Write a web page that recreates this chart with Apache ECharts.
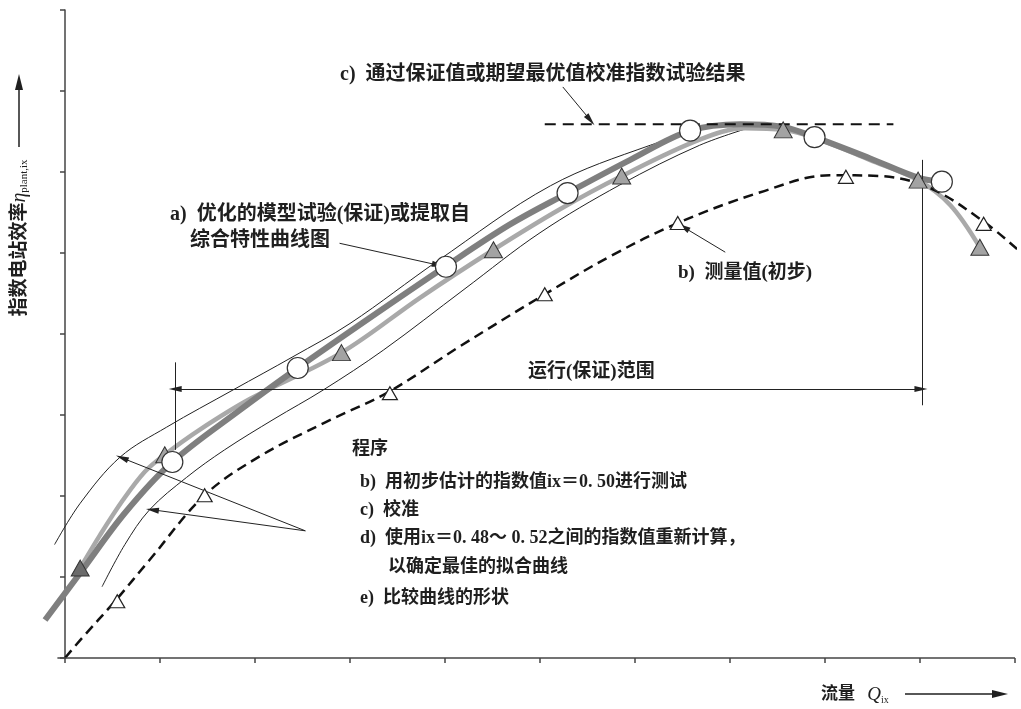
<!DOCTYPE html>
<html>
<head>
<meta charset="utf-8">
<script src="https://cdn.jsdelivr.net/npm/echarts@6/dist/echarts.min.js"></script>
<style>
  html, body { margin: 0; padding: 0; background: #fff; }
  #main { width: 1021px; height: 709px; }
</style>
</head>
<body>
<div id="main"></div>
<script>
// axis ranges (the figure has no tick labels); x starts a bit left of 0
// because the model curve and one envelope begin left of the y axis
var xRange = [-0.25, 10];
var yRange = [0, 8];
var xTicks = [0, 1, 2, 3, 4, 5, 6, 7, 8, 9, 10];
var xBase = [[-0.08, 0], [10, 0]];

// a) optimised model test curve (thick) and its circles
var curveA = [[-0.21, 0.47], [0.16, 1.05], [0.63, 1.79], [1.13, 2.42], [1.84, 3.06], [2.45, 3.58],
  [3.21, 4.20], [4.00, 4.83], [4.68, 5.35], [5.29, 5.74], [5.95, 6.15], [6.58, 6.51],
  [7.11, 6.59], [7.55, 6.56], [7.89, 6.43], [8.47, 6.17], [8.98, 5.93], [9.23, 5.88]];
var circlesA = [[1.13, 2.42], [2.45, 3.58], [4.01, 4.83], [5.29, 5.74], [6.58, 6.51], [7.89, 6.43], [9.23, 5.88]];

// c) calibrated curve (light grey) and grey triangles
var curveC = [[0.16, 1.11], [0.37, 1.52], [0.61, 1.95], [0.84, 2.30], [1.05, 2.51], [1.42, 2.82],
  [1.95, 3.20], [2.91, 3.77], [3.74, 4.45], [4.51, 5.04], [5.21, 5.54], [5.86, 5.95],
  [6.68, 6.40], [7.16, 6.54], [7.56, 6.52], [7.89, 6.42], [8.47, 6.15], [8.98, 5.90],
  [9.32, 5.59], [9.63, 5.07]];
var trianglesC = [[0.16, 1.11], [1.05, 2.51], [2.91, 3.77], [4.51, 5.04], [5.86, 5.95], [7.56, 6.52], [8.98, 5.90], [9.63, 5.07]];

// d) envelopes, ix = 0.48 ~ 0.52
var upperEnv = [[-0.11, 1.40], [0.16, 1.91], [0.58, 2.48], [1.07, 2.85], [1.77, 3.31], [2.40, 3.72],
  [3.00, 4.13], [3.92, 4.90], [5.11, 5.83], [6.16, 6.33], [6.95, 6.60]];
var lowerEnv = [[0.39, 0.88], [0.63, 1.40], [0.89, 1.83], [1.28, 2.23], [1.68, 2.57], [2.20, 2.95],
  [2.72, 3.31], [3.35, 3.80], [4.20, 4.55], [5.00, 5.25], [5.84, 5.84], [6.68, 6.33], [7.24, 6.56]];

// b) measured values (initial), dashed
var curveB = [[0, 0], [0.16, 0.22], [0.54, 0.72], [0.89, 1.21], [1.47, 2.01], [2.05, 2.49],
  [2.74, 2.91], [3.40, 3.28], [4.16, 3.85], [5.05, 4.49], [5.74, 4.96], [6.45, 5.37],
  [7.32, 5.75], [8.05, 5.96], [8.58, 5.95], [9.11, 5.80], [9.68, 5.38], [10.03, 5.04]];
var trianglesB = [[0.55, 0.70], [1.47, 2.01], [3.42, 3.27], [5.05, 4.49], [6.45, 5.37], [8.22, 5.94], [9.67, 5.36]];

// guarantee level and operating range
var guaranteeLine = [[5.05, 6.59], [8.72, 6.59]];
var rangeLeft = [[1.16, 2.57], [1.16, 3.65]];
var rangeRight = [[9.02, 3.12], [9.02, 6.15]];
var rangeArrow = [[1.16, 3.32], [9.01, 3.32]];

// annotation leaders [from, to]
var leaderC = [[5.24, 7.05], [5.53, 6.64]];
var leaderA = [[2.89, 5.12], [3.93, 4.85]];
var leaderB = [[6.95, 5.01], [6.51, 5.32]];
var leaderD1 = [[2.53, 1.57], [0.60, 2.47]];
var leaderD2 = [[2.53, 1.57], [0.92, 1.83]];

var chart = echarts.init(document.getElementById('main'));

var cjk = "'Liberation Serif', 'Noto Sans CJK SC', serif";
var ink = '#1f1f1f';

function arrowLine(seg) {
  return [{ coord: seg[0], symbol: 'none' }, { coord: seg[1], symbol: 'triangle' }];
}

function txt(x, y, s, size) {
  return {
    type: 'text', x: x, y: y, silent: true,
    style: { text: s, fill: ink, font: 'bold ' + (size || 18) + 'px ' + cjk, verticalAlign: 'middle' }
  };
}

function curve(data, color, width, type) {
  return {
    type: 'line', data: data, smooth: 0.35, showSymbol: false,
    clip: false, silent: true, z: 2,
    lineStyle: { color: color, width: width, type: type || 'solid' }
  };
}

var option = {
  animation: false,
  backgroundColor: '#fff',
  grid: { left: 41.25, right: 6, top: 10, bottom: 51 },
  xAxis: {
    type: 'value', min: xRange[0], max: xRange[1],
    axisLine: { show: false },
    axisTick: { show: true, length: 5, customValues: xTicks, lineStyle: { color: '#444', width: 1.5 } },
    axisLabel: { show: false },
    splitLine: { show: false }
  },
  yAxis: {
    type: 'value', min: yRange[0], max: yRange[1], interval: 1,
    axisLine: { show: true, onZero: true, lineStyle: { color: '#444', width: 1.5 } },
    axisTick: { show: true, length: 5, lineStyle: { color: '#444', width: 1.5 } },
    axisLabel: { show: false },
    splitLine: { show: false }
  },
  series: [
    curve(upperEnv, '#222', 1),
    curve(lowerEnv, '#222', 1),
    curve(curveC, '#a9a9a9', 4.5),
    curve(curveA, '#7f7f7f', 6),
    curve(curveB, '#111', 2.5, [10, 6]),
    {
      type: 'line', data: guaranteeLine, showSymbol: false, silent: true,
      lineStyle: { color: '#111', width: 2, type: [11, 7] }
    },
    {
      type: 'line', data: [], silent: true,
      markLine: {
        silent: true, animation: false,
        symbol: ['none', 'none'], symbolSize: [6, 13],
        label: { show: false },
        lineStyle: { color: '#222', width: 1, type: 'solid' },
        data: [
          [{ coord: xBase[0], lineStyle: { color: '#444', width: 1.5 } }, { coord: xBase[1] }],
          [{ coord: rangeLeft[0] }, { coord: rangeLeft[1] }],
          [{ coord: rangeRight[0] }, { coord: rangeRight[1] }],
          [{ coord: rangeArrow[0], symbol: 'triangle' }, { coord: rangeArrow[1], symbol: 'triangle' }],
          arrowLine(leaderC),
          arrowLine(leaderA),
          arrowLine(leaderB),
          arrowLine(leaderD1),
          arrowLine(leaderD2)
        ]
      }
    },
    {
      type: 'scatter', data: trianglesB, symbol: 'triangle', symbolSize: [15, 13], silent: true, z: 10,
      itemStyle: { color: '#ffffff', opacity: 1, borderColor: '#222', borderWidth: 1.2 }
    },
    {
      type: 'scatter', silent: true, symbol: 'triangle', symbolSize: [18, 16], z: 10,
      data: trianglesC.map(function (p, i) { return i === 0 ? { value: p, itemStyle: { color: '#6b6b6b' } } : p; }),
      itemStyle: { color: '#a3a3a3', opacity: 1, borderColor: '#333', borderWidth: 1 }
    },
    {
      type: 'scatter', data: circlesA, symbol: 'circle', symbolSize: 21, silent: true, z: 11,
      itemStyle: { color: '#ffffff', opacity: 1, borderColor: '#333', borderWidth: 1.2 }
    }
  ],
  graphic: [
    txt(340, 75, 'c)  通过保证值或期望最优值校准指数试验结果', 20),
    txt(170, 215, 'a)  优化的模型试验(保证)或提取自', 20),
    txt(190, 241, '综合特性曲线图', 20),
    txt(678, 273, 'b)  测量值(初步)', 19),
    txt(528, 372, '运行(保证)范围', 19),
    txt(352, 449, '程序', 18),
    txt(360, 482, 'b)  用初步估计的指数值ix＝0. 50进行测试', 18),
    txt(360, 510, 'c)  校准', 18),
    txt(360, 538, 'd)  使用ix＝0. 48～ 0. 52之间的指数值重新计算，', 18),
    txt(388, 567, '以确定最佳的拟合曲线', 18),
    txt(360, 598, 'e)  比较曲线的形状', 18),
    {
      type: 'text', x: 20, y: 238, rotation: Math.PI / 2, silent: true,
      style: {
        text: '指数电站效率{eta|η}{sub|plant,ix}',
        fill: ink, font: 'bold 19px ' + cjk, align: 'center', verticalAlign: 'middle',
        rich: {
          eta: { fontSize: 20, fontStyle: 'italic', fontFamily: 'Liberation Serif', fill: ink },
          sub: { fontSize: 11, fontFamily: 'Liberation Serif', fill: ink, padding: [9, 0, 0, 0] }
        }
      }
    },
    { type: 'line', silent: true, shape: { x1: 19, y1: 147, x2: 19, y2: 88 }, style: { stroke: ink, lineWidth: 1.5 } },
    { type: 'polygon', silent: true, shape: { points: [[19, 74], [15, 90], [23, 90]] }, style: { fill: ink } },
    {
      type: 'text', x: 821, y: 695, silent: true,
      style: {
        text: '流量 {q|Q}{sub|ix}',
        fill: ink, font: 'bold 17px ' + cjk, verticalAlign: 'middle',
        rich: {
          q: { fontSize: 19, fontStyle: 'italic', fontFamily: 'Liberation Serif', fill: ink, padding: [0, 0, 0, 8] },
          sub: { fontSize: 10, fontFamily: 'Liberation Serif', fill: ink, padding: [10, 0, 0, 0] }
        }
      }
    },
    { type: 'line', silent: true, shape: { x1: 905, y1: 694, x2: 995, y2: 694 }, style: { stroke: ink, lineWidth: 1.5 } },
    { type: 'polygon', silent: true, shape: { points: [[1008, 694], [992, 690], [992, 698]] }, style: { fill: ink } }
  ]
};

chart.setOption(option);
</script>
</body>
</html>
